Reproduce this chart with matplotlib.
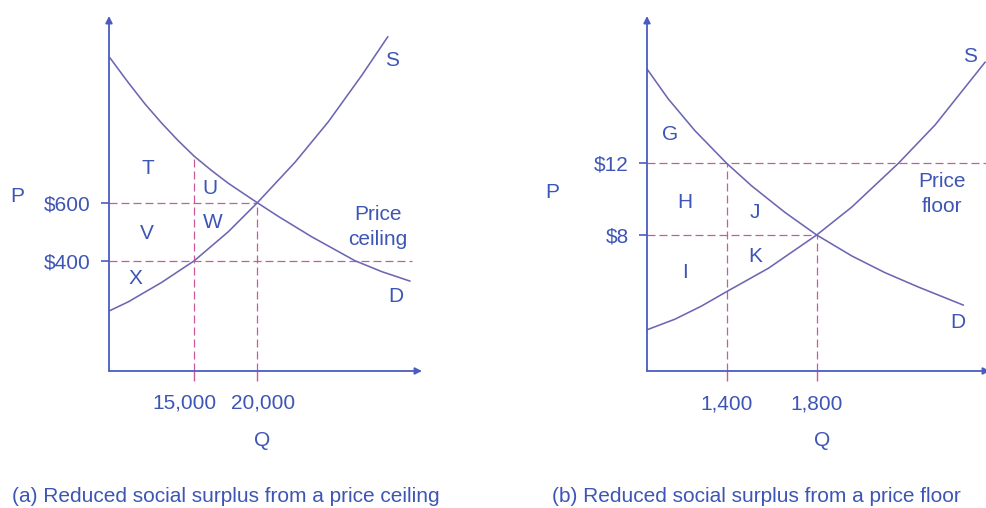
import matplotlib
matplotlib.use('Agg')
import matplotlib.pyplot as plt

plt.rcParams['font.family'] = ['Liberation Sans', 'DejaVu Sans']

# panel (a): price ceiling
left_dem_q = [8300, 9750, 11100, 12400, 13700, 15000, 16400, 17700, 20000, 21700, 24300, 27750, 29900, 32100]
left_dem_p = [1100, 1015, 940, 875, 815, 760, 710, 667, 600, 552, 483, 400, 362, 330]
left_sup_q = [8300, 9750, 12400, 15000, 17700, 20000, 23000, 25650, 28300, 30350]
left_sup_p = [228, 258, 325, 400, 500, 600, 740, 880, 1040, 1172]
left_eq_q, left_eq_p = 20000, 600
left_ceiling_p = 400
left_ceiling_q = 15000
left_ceiling_end_q = 32300

# panel (b): price floor
right_dem_q = [1044, 1140, 1259, 1400, 1511, 1659, 1800, 1956, 2103, 2251, 2451]
right_dem_p = [17.3, 15.6, 13.82, 12, 10.74, 9.26, 8, 6.83, 5.9, 5.1, 4.09]
right_sup_q = [1044, 1170, 1289, 1400, 1585, 1800, 1956, 2163, 2326, 2548]
right_sup_p = [2.7, 3.3, 4.04, 4.84, 6.14, 8, 9.56, 12, 14.14, 17.64]
right_eq_q, right_eq_p = 1800, 8
right_floor_p = 12
right_floor_q = 1400

W, H = 986, 508
AXIS_C = '#4a5cc0'
CURVE_C = '#6c66b4'
DASH_C = '#cc5a98'
TEXT_C = '#3d55b5'
FS = 15
DASH = (0, (6.4, 3.2))

fig = plt.figure(figsize=(W / 100, H / 100), dpi=100)


def box(x0, y0, x1, y1):
    # pixel box (image coords) -> figure fraction
    return [x0 / W, 1 - y1 / H, (x1 - x0) / W, (y1 - y0) / H]


def label(x, y, s, **kw):
    kw.setdefault('ha', 'center')
    fig.text(x / W, 1 - y / H, s, va='center', color=TEXT_C, fontsize=FS, **kw)


def setup(ax, xlim, ylim):
    ax.set_xlim(*xlim)
    ax.set_ylim(*ylim)
    for s in ax.spines.values():
        s.set_visible(False)
    ax.patch.set_alpha(0)
    arrow = dict(arrowstyle='-|>', color=AXIS_C, lw=1.3, mutation_scale=10, shrinkA=0, shrinkB=0)
    ax.annotate('', xy=(1, 0), xytext=(0, 0), xycoords='axes fraction', arrowprops=arrow, annotation_clip=False)
    ax.annotate('', xy=(0, 1), xytext=(0, 0), xycoords='axes fraction', arrowprops=arrow, annotation_clip=False)
    ax.tick_params(axis='y', direction='out', length=6, width=1.2, color=AXIS_C,
                   labelcolor=TEXT_C, labelsize=FS, pad=7)
    ax.tick_params(axis='x', direction='out', length=7, width=1.0, color=DASH_C,
                   labelcolor=TEXT_C, labelsize=FS, pad=10)


# ---- panel (a)
ax1 = fig.add_axes(box(109, 16, 422, 371))
setup(ax1, (8230, 33070), (19.7, 1244))
xmin, ymin = 8230, 19.7
top_q15 = left_dem_p[left_dem_q.index(left_ceiling_q)]
ax1.plot([xmin, left_eq_q], [left_eq_p, left_eq_p], color=DASH_C, lw=0.9, ls=DASH)
ax1.plot([xmin, left_ceiling_end_q], [left_ceiling_p, left_ceiling_p], color=DASH_C, lw=0.9, ls=DASH)
ax1.plot([left_ceiling_q, left_ceiling_q], [ymin, top_q15], color=DASH_C, lw=0.9, ls=DASH)
ax1.plot([left_eq_q, left_eq_q], [ymin, left_eq_p], color=DASH_C, lw=0.9, ls=DASH)
ax1.plot(left_dem_q, left_dem_p, color=CURVE_C, lw=1.15, solid_joinstyle='round')
ax1.plot(left_sup_q, left_sup_p, color=CURVE_C, lw=1.15, solid_joinstyle='round')
ax1.set_yticks([left_ceiling_p, left_eq_p])
ax1.set_yticklabels(['$400', '$600'])
ax1.set_xticks([left_ceiling_q, left_eq_q])
ax1.set_xticklabels([])

label(17, 196, 'P')
label(184, 403, '15,000')
label(263, 403, '20,000')
label(262, 441, 'Q')
label(148, 168, 'T')
label(210, 188, 'U')
label(213, 222, 'W')
label(147, 233, 'V')
label(135, 279, 'X')
label(392, 61, 'S')
label(378, 227, 'Price\nceiling', linespacing=1.35)
label(396, 296, 'D')
label(12, 496, '(a) Reduced social surplus from a price ceiling', ha='left')

# ---- panel (b)
ax2 = fig.add_axes(box(647, 16, 990, 371))
setup(ax2, (1046, 2570), (0.41, 20.22))
xmin, ymin = 1046, 0.41
ax2.plot([xmin, 2570], [right_floor_p, right_floor_p], color=DASH_C, lw=0.9, ls=DASH)
ax2.plot([xmin, right_eq_q], [right_eq_p, right_eq_p], color=DASH_C, lw=0.9, ls=DASH)
ax2.plot([right_floor_q, right_floor_q], [ymin, right_floor_p], color=DASH_C, lw=0.9, ls=DASH)
ax2.plot([right_eq_q, right_eq_q], [ymin, right_eq_p], color=DASH_C, lw=0.9, ls=DASH)
ax2.plot(right_dem_q, right_dem_p, color=CURVE_C, lw=1.15, solid_joinstyle='round')
ax2.plot(right_sup_q, right_sup_p, color=CURVE_C, lw=1.15, solid_joinstyle='round')
ax2.set_yticks([right_eq_p, right_floor_p])
ax2.set_yticklabels(['$8', '$12'])
ax2.set_xticks([right_floor_q, right_eq_q])
ax2.set_xticklabels(['1,400', '1,800'])

label(552, 193, 'P')
label(822, 441, 'Q')
label(670, 134, 'G')
label(685, 202, 'H')
label(755, 213, 'J')
label(755, 256, 'K')
label(685, 273, 'I')
label(970, 57, 'S')
label(942, 194, 'Price\nfloor', linespacing=1.35)
label(958, 322, 'D')
label(756, 496, '(b) Reduced social surplus from a price floor')

fig.savefig('out.png', dpi=100)
